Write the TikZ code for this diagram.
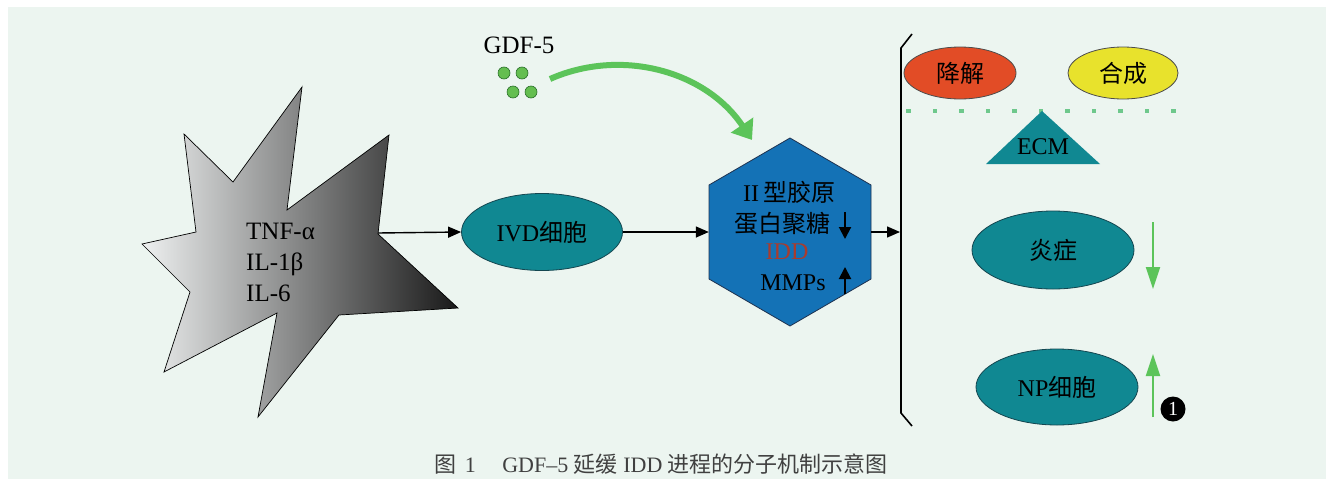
\documentclass[tikz,border=0pt]{standalone}
\usepackage{fontspec}
\setmainfont{Liberation Serif}
\newfontfamily\cjk{Noto Sans CJK SC}
\usetikzlibrary{shapes.geometric,arrows.meta}
\definecolor{bgc}{RGB}{236,245,240}
\definecolor{tealfill}{RGB}{16,136,146}
\definecolor{tealline}{RGB}{20,70,80}
\definecolor{hexfill}{RGB}{20,114,182}
\definecolor{hexline}{RGB}{30,50,80}
\definecolor{iddred}{RGB}{170,60,45}
\definecolor{garrowc}{RGB}{92,196,90}
\definecolor{dotfill}{RGB}{100,190,80}
\definecolor{dotline}{RGB}{40,110,40}
\definecolor{dashc}{RGB}{110,200,140}
\definecolor{orangec}{RGB}{226,76,38}
\definecolor{yellowc}{RGB}{232,226,44}
\definecolor{starL}{RGB}{238,240,240}
\definecolor{starR}{RGB}{25,25,25}
\begin{document}
\begin{tikzpicture}[x=1pt,y=-1pt,
  lbl/.style={font=\fontsize{24}{30}\selectfont, inner sep=0pt},
  ell/.style={ellipse, draw=tealline, fill=tealfill, line width=0.8pt, inner sep=0pt, lbl},
  blk/.style={-{Triangle[length=13pt,width=11pt]}, line width=1.4pt},
  thk/.style={-{Triangle[length=12pt,width=12pt]}, line width=2pt},
  garr/.style={draw=garrowc, line width=2pt, -{Triangle[length=22pt,width=14pt]}},
  gdot/.style={circle, fill=dotfill, draw=dotline, line width=0.6pt, minimum size=12pt, inner sep=0pt}]
\useasboundingbox (0,0) rectangle (1333,482);
\fill[bgc] (8,7) rectangle (1326,479);

% star
\shade[left color=starL, right color=starR, draw=black, line width=0.7pt]
  (302,87) -- (287,210) -- (389,135) -- (378,234) -- (458,308) -- (339,315)
  -- (258,417) -- (277,313) -- (164,372) -- (190,292) -- (142,244) -- (196,232)
  -- (184,134) -- (233,182) -- cycle;
\node[lbl, font=\fontsize{25}{31}\selectfont, align=left, anchor=west] (cyto) at (246,262) {TNF-α\\IL-1β\\IL-6};
\coordinate (starout) at (378,233);

% IVD
\node[ell, minimum width=161pt, minimum height=77pt] (ivd) at (542,232) {IVD{\cjk 细胞}};
\draw[blk] (starout) -- (ivd.west);

% hexagon
\filldraw[fill=hexfill, draw=hexline, line width=0.8pt]
  (790,138) -- (871,185) -- (871,279) -- (790,326) -- (709,279) -- (709,185) -- cycle;
\node[rectangle, minimum width=162pt, minimum height=188pt, inner sep=0pt] (hex) at (790,232) {};
\draw[blk] (ivd.east) -- (hex.west);
\node[lbl] (h1) at (789,192) {II\,{\cjk 型胶原}};
\node[lbl] (h2) at (782,223) {{\cjk 蛋白聚糖}};
\node[lbl, text=iddred] (h3) at (787,252) {IDD};
\node[lbl] (h4) at (793,283) {MMPs};
\coordinate (dA) at (845,212); \coordinate (dB) at (845,239);
\coordinate (uA) at (845,294); \coordinate (uB) at (845,267);
\draw[thk] (dA) -- (dB);
\draw[thk] (uA) -- (uB);

% bracket
\coordinate (brk) at (900,232);
\draw[blk] (hex.east) -- (brk);
\draw[line width=1.6pt] (912,34) -- (901,48) -- (901,413) -- (912,426);

% GDF-5
\node[lbl, font=\fontsize{25}{30}\selectfont] (gdf) at (519,45) {GDF-5};
\node[gdot] (d1) at (504,73) {};
\node[gdot] (d2) at (522,73) {};
\node[gdot] (d3) at (513,92) {};
\node[gdot] (d4) at (531,92) {};
\coordinate (gs) at (550,79);
\coordinate (ge) at (752,140);
\draw[draw=garrowc, line width=6pt, -{Triangle[length=18pt,width=26pt]}]
  (gs) .. controls (620,48) and (705,70) .. (ge);

% right side
\node[ellipse, draw=black!70, fill=orangec, line width=0.8pt, minimum width=112pt, minimum height=52pt, inner sep=0pt, lbl] (deg) at (960,73) {{\cjk 降解}};
\node[ellipse, draw=black!70, fill=yellowc, line width=0.8pt, minimum width=110pt, minimum height=52pt, inner sep=0pt, lbl] (syn) at (1123,73) {{\cjk 合成}};
\foreach \i in {0,...,10} {
  \fill[dashc] ({908.3+26.5*\i-2.2},109) rectangle ++(4.4,4.4);
}
\fill[tealfill] (1042,111) -- (1100,164) -- (986,164) -- cycle;
\node[lbl] (ecm) at (1043,147) {ECM};

\node[ell, minimum width=162pt, minimum height=78pt] (inf) at (1053,250) {{\cjk 炎症}};
\node[ell, minimum width=162pt, minimum height=76pt] (np) at (1057,387) {NP{\cjk 细胞}};
\coordinate (g1a) at (1153,222); \coordinate (g1b) at (1153,289);
\coordinate (g2a) at (1153,417); \coordinate (g2b) at (1153,354);
\draw[garr] (g1a) -- (g1b);
\draw[garr] (g2a) -- (g2b);
\node[circle, fill=black, text=white, minimum size=25pt, inner sep=0pt, font=\fontsize{20}{20}\selectfont] (n1) at (1173,409) {1};

% caption
\node[inner sep=0pt, text=black!75, font=\fontsize{22}{26}\selectfont] (cap) at (661,464)
  {{\cjk 图}\hspace{0.4em}1\hspace{1.2em}GDF–5 {\cjk 延缓} IDD {\cjk 进程的分子机制示意图}};
\end{tikzpicture}
\end{document}
